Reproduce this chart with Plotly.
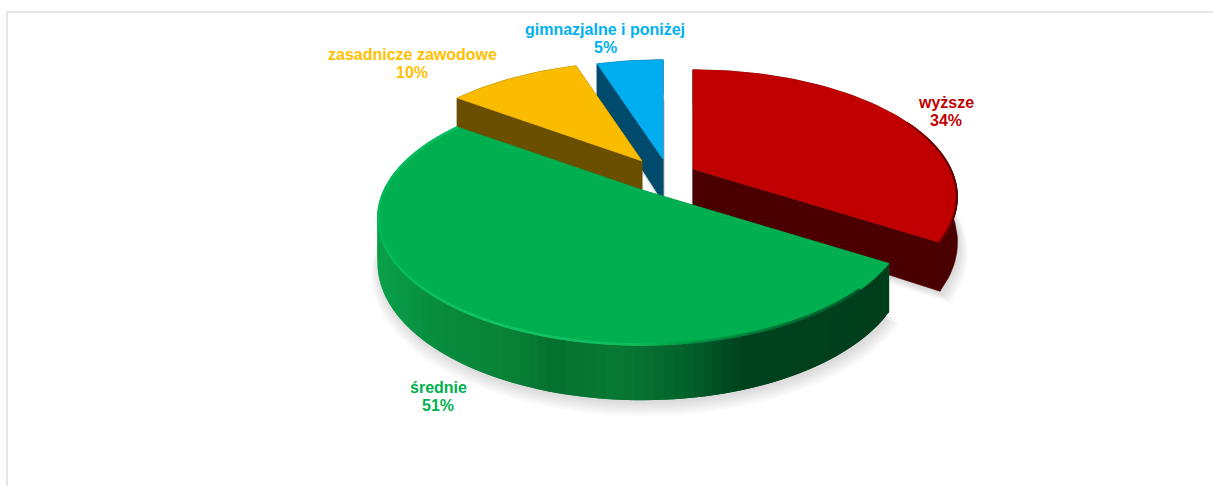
import math
import plotly.graph_objects as go

# --- data ---
categories = ["wyższe", "średnie", "zasadnicze zawodowe", "gimnazjalne i poniżej"]
values = [34, 51, 10, 5]
top_colors = ["#C00000", "#00B050", "#FBBC00", "#00AEEF"]
label_colors = ["#C00000", "#00B050", "#FFC000", "#00B0F0"]
wall_colors = ["#4A0000", "#0A8A3E", "#6A4F00", "#004B6B"]

# --- view of the pie (layout only) ---
A, B, K, H = 258.0, 121.0, 0.22, 43.0
apex = [(693, 169), (642, 190), (642, 161), (663, 159)]
label_pos = [(946, 102, 120), (438, 387, 405), (412, 54, 72), (605, 29, 47)]
DRAW_ORDER = [3, 2, 0, 1]
W, H_PX = 1213, 486


def project(i, theta, r=1.0, z=0.0, dx=0.0, dy=0.0):
    X, Y = r * math.sin(theta), -r * math.cos(theta)
    s = 1.0 / (1.0 - K * Y)
    return apex[i][0] + A * X * s + dx, apex[i][1] + (B * Y + H * z) * s + dy


total = sum(values)
spans, c = [], 0.0
for v in values:
    spans.append((c / total * 2 * math.pi, (c + v) / total * 2 * math.pi))
    c += v


def arc(i, r=1.0, z=0.0, t0=None, t1=None, dx=0.0, dy=0.0, step=0.02):
    a0 = spans[i][0] if t0 is None else t0
    a1 = spans[i][1] if t1 is None else t1
    n = max(2, int((a1 - a0) / step))
    return [project(i, a0 + (a1 - a0) * j / n, r, z, dx, dy) for j in range(n + 1)]


fig = go.Figure()


def poly(pts, color, line=0.6):
    xs = [p[0] for p in pts] + [pts[0][0]]
    ys = [p[1] for p in pts] + [pts[0][1]]
    fig.add_trace(go.Scatter(x=xs, y=ys, mode="lines", fill="toself", fillcolor=color,
                             line=dict(color=color, width=line), hoverinfo="skip", showlegend=False))


def polyline(pts, color, width):
    fig.add_trace(go.Scatter(x=[p[0] for p in pts], y=[p[1] for p in pts], mode="lines",
                             line=dict(color=color, width=width), hoverinfo="skip", showlegend=False))


def mix(stops, x):
    def css(c):
        return "rgb(%d,%d,%d)" % tuple(c)
    if x <= stops[0][0]:
        return css(stops[0][1])
    for (x0, c0), (x1, c1) in zip(stops, stops[1:]):
        if x <= x1:
            f = (x - x0) / (x1 - x0)
            return css([round(c0[j] + (c1[j] - c0[j]) * f) for j in range(3)])
    return css(stops[-1][1])


GREEN_WALL = [(380, (10, 160, 74)), (440, (8, 140, 62)), (520, (8, 128, 54)), (560, (5, 112, 48)),
              (620, (8, 122, 52)), (690, (3, 98, 44)), (745, (0, 66, 30)), (890, (0, 62, 28))]
GREEN_RIM = [(380, (4, 184, 90)), (500, (18, 196, 101)), (640, (16, 188, 92)), (700, (0, 150, 68)),
             (800, (0, 110, 50)), (893, (0, 84, 38))]
RED_RIM = [(800, (192, 0, 0)), (900, (150, 0, 0)), (955, (90, 0, 0))]

# soft shadows
for step in range(6):
    sc = 1.0 + 0.006 * step
    for i in range(4):
        base = [project(i, 0, 0, 1, 2, 3 + step * 1.2)] + arc(i, sc, 1.0, dx=2, dy=3 + step * 1.2)
        poly(base, "rgba(90,90,90,0.035)", 0)

for i in DRAW_ORDER:
    a0, a1 = spans[i]
    # cut faces
    for t in (a0, a1):
        poly([project(i, t, 0, 0), project(i, t, 1, 0), project(i, t, 1, 1), project(i, t, 0, 1)],
             wall_colors[i])
    # outer wall, painted in overlapping pieces so no seams show
    top, bottom = arc(i, step=0.03), arc(i, z=1.0, step=0.03)
    if i == 1:
        for j in range(len(top) - 1):
            q = [top[j], top[min(j + 2, len(top) - 1)], bottom[min(j + 2, len(top) - 1)], bottom[j]]
            poly(q, mix(GREEN_WALL, top[j][0]), 0)
    else:
        poly(top + bottom[::-1], wall_colors[i])
    # top face
    poly([apex[i]] + arc(i), top_colors[i])
    # bevel, drawn along the outer edge of the top face
    if i == 1:
        rim = arc(i, 0.997, t0=a1 - 3.0, t1=a1, step=0.03)
        for j in range(len(rim) - 1):
            polyline(rim[j:j + 3], mix(GREEN_RIM, rim[j][0]), 2.4)
    if i == 0:
        rim = arc(i, 0.998, t0=a1 - 1.0, t1=a1, step=0.03)
        for j in range(len(rim) - 1):
            polyline(rim[j:j + 3], mix(RED_RIM, rim[j][0]), 1.8)

# labels
annotations = []
for name, v, col, (x, y0, y1) in zip(categories, values, label_colors, label_pos):
    for txt, y in ((name, y0), ("%d%%" % v, y1)):
        annotations.append(dict(x=x, y=y, xref="x", yref="y", text=txt, showarrow=False,
                                xanchor="center", yanchor="middle",
                                font=dict(family="Liberation Sans", size=16, color=col, weight="bold")))

shapes = [
    dict(type="line", xref="x", yref="y", x0=7, x1=W, y0=12, y1=12, line=dict(color="#DCDCDC", width=1.5)),
    dict(type="line", xref="x", yref="y", x0=7, x1=7, y0=12, y1=H_PX, line=dict(color="#DCDCDC", width=1.5)),
]

fig.update_layout(width=W, height=H_PX, margin=dict(l=0, r=0, t=0, b=0),
                  paper_bgcolor="white", plot_bgcolor="white", showlegend=False,
                  annotations=annotations, shapes=shapes,
                  xaxis=dict(range=[0, W], visible=False, fixedrange=True),
                  yaxis=dict(range=[H_PX, 0], visible=False, fixedrange=True))
fig.write_html("out.html", config=dict(displayModeBar=False),
               post_script="document.body.style.margin='0';document.body.style.overflow='hidden';")
